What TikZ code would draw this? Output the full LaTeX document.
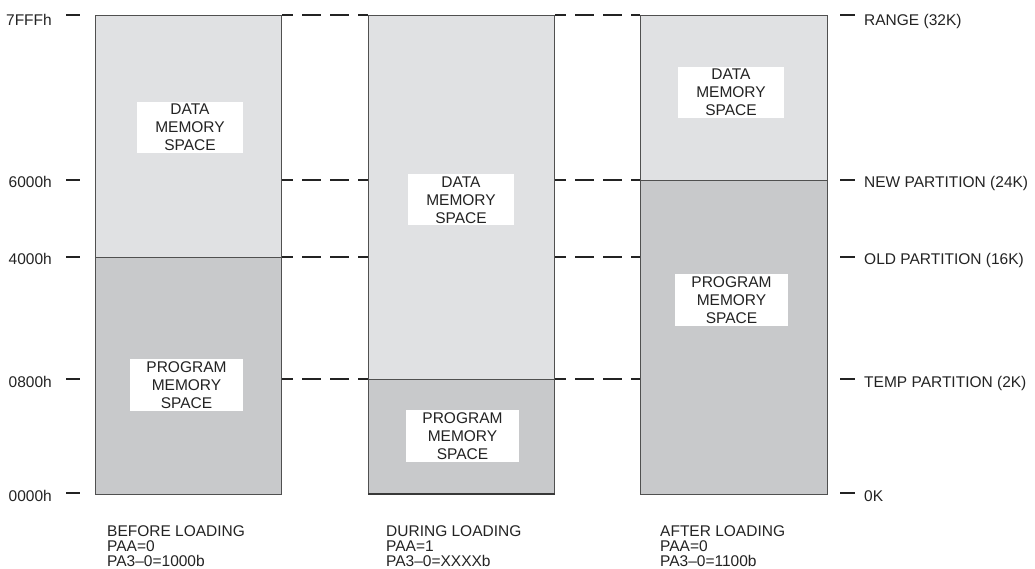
\documentclass[tikz,border=0pt]{standalone}
\usepackage{fontspec}
\setmainfont{Liberation Sans}
\definecolor{lightreg}{RGB}{224,225,227}
\definecolor{darkreg}{RGB}{200,201,203}
\definecolor{edge}{RGB}{80,80,80}
\definecolor{ink}{RGB}{35,35,35}
\begin{document}
\begin{tikzpicture}[x=1pt,y=-1pt,
  every node/.style={font=\fontsize{15.5}{18}\selectfont, text=ink},
  region/.style={draw=edge, line width=1.2pt, inner sep=0pt, anchor=north west},
  datareg/.style={region, fill=lightreg},
  progreg/.style={region, fill=darkreg},
  memlabel/.style={fill=white, align=center, inner sep=0pt, minimum height=51pt},
  level/.style={draw=ink, line width=1.2pt, dash pattern=on 19pt off 9pt, dash phase=8pt},
  tickline/.style={draw=ink, line width=1.2pt},
  leftlab/.style={anchor=base east, inner sep=0pt},
  rightlab/.style={anchor=base west, inner sep=0pt},
  caption/.style={anchor=north west, align=left, inner sep=0pt, font=\fontsize{15.5}{15}\selectfont}]
\useasboundingbox (0,0) rectangle (1035,569);

% columns
\node[datareg, minimum width=186pt, minimum height=242pt] (Ld) at (95,15) {};
\node[progreg, minimum width=186pt, minimum height=237pt] (Lp) at (95,257) {};
\node[datareg, minimum width=186pt, minimum height=364pt] (Md) at (368,15) {};
\node[progreg, minimum width=186pt, minimum height=114pt] (Mp) at (368,379) {};
\node[datareg, minimum width=187pt, minimum height=165pt] (Rd) at (640,15) {};
\node[progreg, minimum width=187pt, minimum height=314pt] (Rp) at (640,180) {};
\draw[edge!70!black, line width=1.8pt] (Mp.south west) -- (Mp.south east);

% memory labels
\node[memlabel, minimum width=106pt] (Ldl) at (190,127.5) {DATA\\MEMORY\\SPACE};
\node[memlabel, minimum width=113pt, minimum height=52pt] (Lpl) at (186.5,385) {PROGRAM\\MEMORY\\SPACE};
\node[memlabel, minimum width=106pt] (Mdl) at (461,200) {DATA\\MEMORY\\SPACE};
\node[memlabel, minimum width=113pt, minimum height=52pt] (Mpl) at (462.5,436) {PROGRAM\\MEMORY\\SPACE};
\node[memlabel, minimum width=106pt] (Rdl) at (731,92.5) {DATA\\MEMORY\\SPACE};
\node[memlabel, minimum width=113pt, minimum height=52pt] (Rpl) at (731.5,300) {PROGRAM\\MEMORY\\SPACE};

% dashed level lines
\draw[level] (Ld.north east) -- (Md.north west);
\draw[level] (Md.north east) -- (Rd.north west);
\draw[level] (Ld.east |- Rp.north) -- (Md.west |- Rp.north);
\draw[level] (Md.east |- Rp.north) -- (Rp.north west);
\draw[level] (Lp.north east) -- (Md.west |- Lp.north);
\draw[level] (Md.east |- Lp.north) -- (Rp.west |- Lp.north);
\draw[level] (Lp.east |- Mp.north) -- (Mp.north west);
\draw[level] (Mp.north east) -- (Rp.west |- Mp.north);

% left scale
\node[leftlab] (a7) at (52,26) {7FFFh};
\node[leftlab] (a6) at (52,188) {6000h};
\node[leftlab] (a4) at (52,265) {4000h};
\node[leftlab] (a08) at (52,387) {0800h};
\node[leftlab] (a0) at (52,501) {0000h};
\coordinate (lt1a) at (66,15);  \coordinate (lt1b) at (80,15);
\coordinate (lt2a) at (66,180); \coordinate (lt2b) at (80,180);
\coordinate (lt3a) at (66,257); \coordinate (lt3b) at (80,257);
\coordinate (lt4a) at (66,379); \coordinate (lt4b) at (80,379);
\coordinate (lt5a) at (66,493); \coordinate (lt5b) at (80,493);
\draw[tickline] (lt1a) -- (lt1b);
\draw[tickline] (lt2a) -- (lt2b);
\draw[tickline] (lt3a) -- (lt3b);
\draw[tickline] (lt4a) -- (lt4b);
\draw[tickline] (lt5a) -- (lt5b);

% right scale
\node[rightlab] (r1) at (864,26) {RANGE (32K)};
\node[rightlab] (r2) at (864,188) {NEW PARTITION (24K)};
\node[rightlab] (r3) at (864,265) {OLD PARTITION (16K)};
\node[rightlab] (r4) at (864,387) {TEMP PARTITION (2K)};
\node[rightlab] (r5) at (864,501) {0K};
\coordinate (rt1a) at (840,15);  \coordinate (rt1b) at (855,15);
\coordinate (rt2a) at (840,180); \coordinate (rt2b) at (855,180);
\coordinate (rt3a) at (840,257); \coordinate (rt3b) at (855,257);
\coordinate (rt4a) at (840,379); \coordinate (rt4b) at (855,379);
\coordinate (rt5a) at (840,493); \coordinate (rt5b) at (855,493);
\draw[tickline] (rt1a) -- (rt1b);
\draw[tickline] (rt2a) -- (rt2b);
\draw[tickline] (rt3a) -- (rt3b);
\draw[tickline] (rt4a) -- (rt4b);
\draw[tickline] (rt5a) -- (rt5b);

% captions
\node[caption] (c1) at (107,525) {BEFORE LOADING\\PAA=0\\PA3–0=1000b};
\node[caption] (c2) at (386,525) {DURING LOADING\\PAA=1\\PA3–0=XXXXb};
\node[caption] (c3) at (660,525) {AFTER LOADING\\PAA=0\\PA3–0=1100b};
\end{tikzpicture}
\end{document}
